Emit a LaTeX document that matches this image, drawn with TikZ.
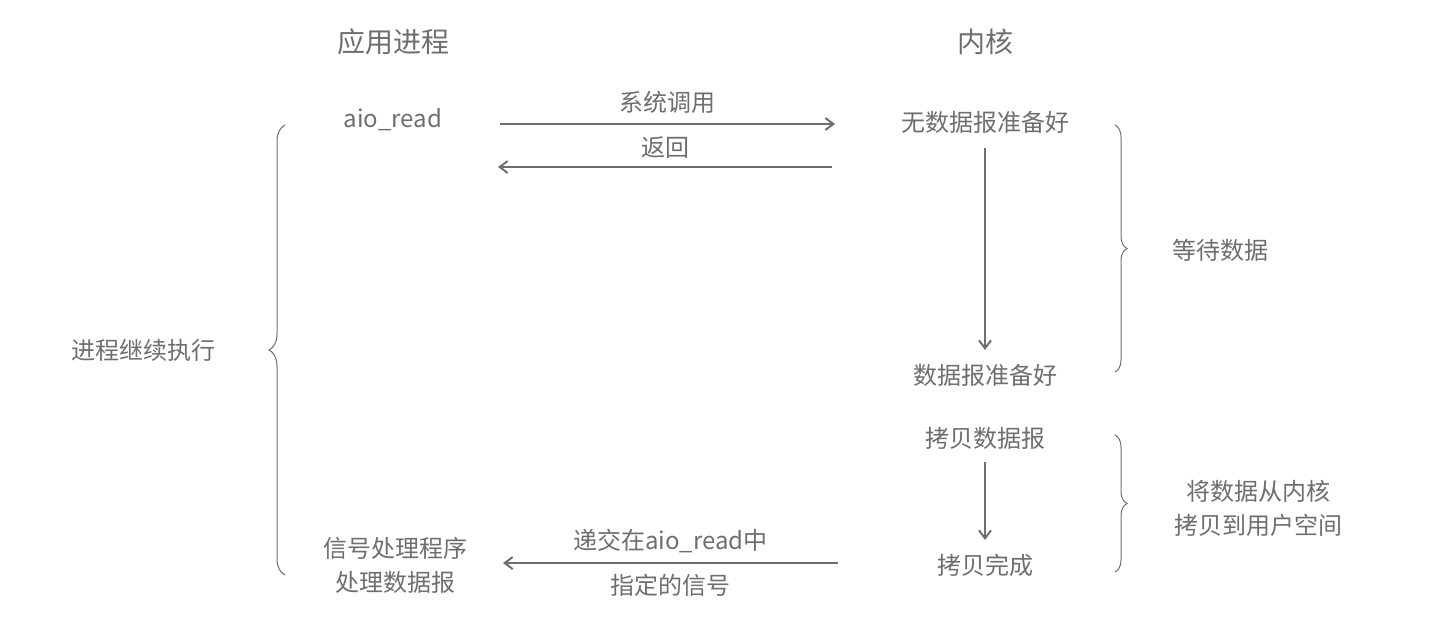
\documentclass[tikz,border=0pt]{standalone}
\usepackage{fontspec}
\newfontfamily\cjk{Noto Sans CJK SC}
\usetikzlibrary{decorations.pathreplacing,arrows.meta}
\definecolor{tg}{HTML}{6E6E6E}
\begin{document}
\begin{tikzpicture}[x=1pt,y=-1pt,
  txt/.style={font=\cjk\fontsize{24}{34}\selectfont,text=tg,align=center,inner sep=0},
  big/.style={font=\cjk\fontsize{28}{34}\selectfont,text=tg,inner sep=0},
  arr/.style={draw=tg,line width=2pt,-{Straight Barb[length=8pt,width=12pt]}},
  brc/.style={draw=tg,line width=1pt,decorate,decoration={brace,amplitude=12pt}}]
\useasboundingbox (0,0) rectangle (1439,626);
\node[big] (h1) at (393,42) {应用进程};
\node[big] (h2) at (985,42) {内核};
\node[txt] (aio) at (393,120) {aio\_read};
\node[txt] (k1) at (985,122) {无数据报准备好};
\node[txt] (k2) at (985,375) {数据报准备好};
\node[txt] (k3) at (985,438) {拷贝数据报};
\node[txt] (k4) at (985,565) {拷贝完成};
\node[txt] (sig) at (395,565) {信号处理程序\\处理数据报};
\coordinate (a1) at (500,124); \coordinate (b1) at (835,124);
\coordinate (a2) at (832,167); \coordinate (b2) at (498,167);
\coordinate (a3) at (838,563); \coordinate (b3) at (503,563);
\draw[arr] (a1) -- node[txt,above=9pt]{系统调用} (b1);
\draw[arr] (a2) -- node[txt,above=8pt]{返回} (b2);
\draw[arr] (a3) -- node[txt,above=9pt]{递交在aio\_read中} node[txt,below=10pt]{指定的信号} (b3);
\draw[arr] (985,148) -- (985,350);
\draw[arr] (985,462) -- (985,540);
\coordinate (r1a) at (1115,125); \coordinate (r1b) at (1115,372);
\coordinate (r2a) at (1115,435); \coordinate (r2b) at (1115,572);
\coordinate (la) at (285,575); \coordinate (lb) at (285,125);
\draw[brc] (r1a) -- (r1b);
\draw[brc] (r2a) -- (r2b);
\draw[brc,decoration={brace,amplitude=16pt}] (la) -- (lb);
\node[txt] (w) at (1220,250) {等待数据};
\node[txt] (c) at (1258,508) {将数据从内核\\拷贝到用户空间};
\node[txt] (p) at (143,350) {进程继续执行};
\end{tikzpicture}
\end{document}
